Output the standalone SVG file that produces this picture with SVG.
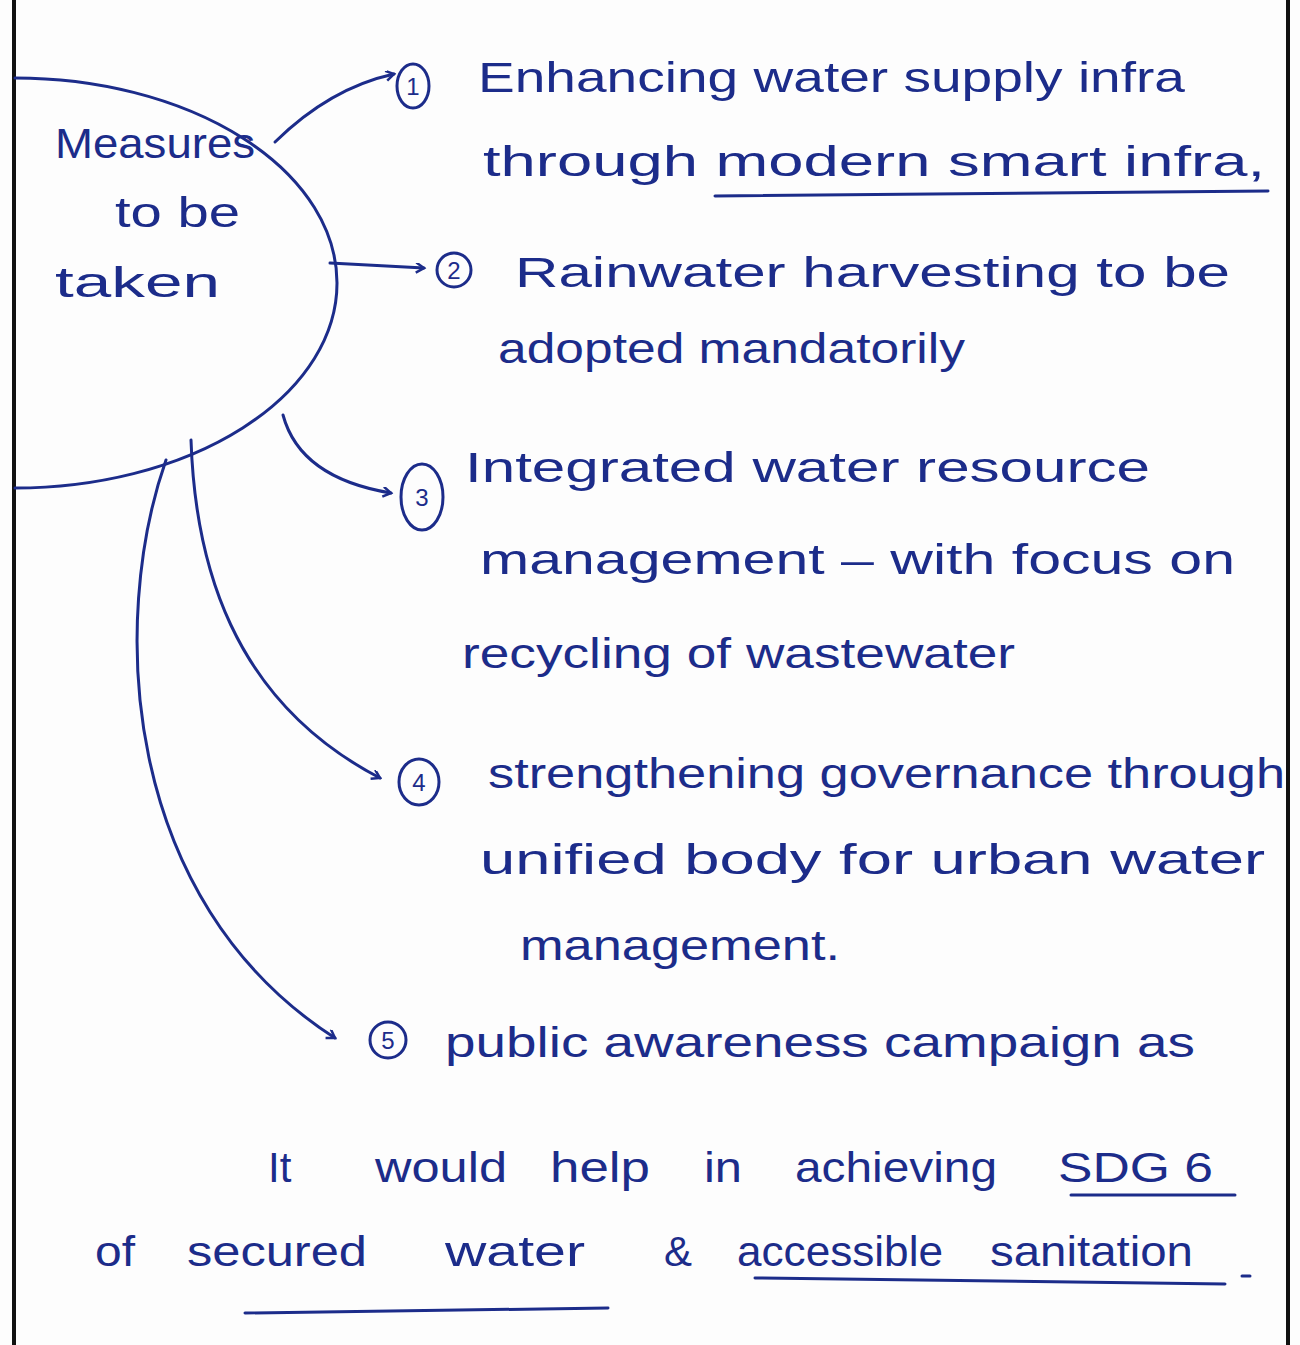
<svg xmlns="http://www.w3.org/2000/svg" width="1300" height="1345" viewBox="0 0 1300 1345">
<defs>
<style>
.ink{fill:none;stroke:#1c2c8a;stroke-width:3;stroke-linecap:round}
.t{font-family:"Liberation Sans","DejaVu Sans",sans-serif;font-size:42px;fill:#1c2c8a}
.n{font-family:"Liberation Sans","DejaVu Sans",sans-serif;font-size:24px;fill:#1c2c8a;text-anchor:middle}
.border{stroke:#111;stroke-width:4}
</style>
<marker id="ah" markerWidth="12" markerHeight="12" refX="9" refY="5" orient="auto" markerUnits="userSpaceOnUse">
<path d="M1,0 L9,5 L1,10" fill="none" stroke="#1c2c8a" stroke-width="2.5"/>
</marker>
</defs>
<rect width="1300" height="1345" fill="#fdfdfd"/>
<line class="border" x1="14" y1="0" x2="14" y2="1345"/>
<line class="border" x1="1288" y1="0" x2="1288" y2="1345"/>

<g id="center">
<path class="ink" d="M15,78 A322,205 0 0 1 15,488"/>
<text class="t" x="55" y="158" textLength="200" lengthAdjust="spacingAndGlyphs">Measures</text>
<text class="t" x="115" y="227" textLength="125" lengthAdjust="spacingAndGlyphs">to be</text>
<text class="t" x="55" y="297" textLength="165" lengthAdjust="spacingAndGlyphs">taken</text>
</g>

<g id="connectors">
<path class="ink" d="M275,142 Q330,88 394,74" marker-end="url(#ah)"/>
<path class="ink" d="M330,263 L424,268" marker-end="url(#ah)"/>
<path class="ink" d="M283,415 Q300,478 391,493" marker-end="url(#ah)"/>
<path class="ink" d="M191,440 C195,560 230,700 380,778" marker-end="url(#ah)"/>
<path class="ink" d="M166,460 C110,620 120,900 335,1038" marker-end="url(#ah)"/>
</g>

<g id="m1">
<ellipse class="ink" cx="413" cy="86" rx="16" ry="22"/>
<text class="n" x="413" y="95">1</text>
<text class="t" x="478" y="92" textLength="707" lengthAdjust="spacingAndGlyphs">Enhancing water supply infra</text>
<text class="t" x="483" y="176" textLength="782" lengthAdjust="spacingAndGlyphs">through modern smart infra,</text>
<path class="ink" d="M715,196 L1268,191"/>
</g>

<g id="m2">
<circle class="ink" cx="454" cy="270" r="17"/>
<text class="n" x="454" y="279">2</text>
<text class="t" x="515" y="287" textLength="715" lengthAdjust="spacingAndGlyphs">Rainwater harvesting to be</text>
<text class="t" x="498" y="363" textLength="467" lengthAdjust="spacingAndGlyphs">adopted mandatorily</text>
</g>

<g id="m3">
<ellipse class="ink" cx="422" cy="497" rx="21" ry="33"/>
<text class="n" x="422" y="506">3</text>
<text class="t" x="465" y="482" textLength="685" lengthAdjust="spacingAndGlyphs">Integrated water resource</text>
<text class="t" x="480" y="574" textLength="755" lengthAdjust="spacingAndGlyphs">management – with focus on</text>
<text class="t" x="462" y="668" textLength="553" lengthAdjust="spacingAndGlyphs">recycling of wastewater</text>
</g>

<g id="m4">
<ellipse class="ink" cx="419" cy="782" rx="20" ry="23"/>
<text class="n" x="419" y="791">4</text>
<text class="t" x="488" y="788" textLength="797" lengthAdjust="spacingAndGlyphs">strengthening governance through</text>
<text class="t" x="480" y="874" textLength="785" lengthAdjust="spacingAndGlyphs">unified body for urban water</text>
<text class="t" x="520" y="960" textLength="320" lengthAdjust="spacingAndGlyphs">management.</text>
</g>

<g id="m5">
<circle class="ink" cx="388" cy="1040" r="18"/>
<text class="n" x="388" y="1049">5</text>
<text class="t" x="445" y="1057" textLength="750" lengthAdjust="spacingAndGlyphs">public awareness campaign as</text>
<text class="t" x="268" y="1182">It</text>
<text class="t" x="375" y="1182" textLength="132" lengthAdjust="spacingAndGlyphs">would</text>
<text class="t" x="550" y="1182" textLength="100" lengthAdjust="spacingAndGlyphs">help</text>
<text class="t" x="704" y="1182" textLength="38" lengthAdjust="spacingAndGlyphs">in</text>
<text class="t" x="795" y="1182" textLength="202" lengthAdjust="spacingAndGlyphs">achieving</text>
<text class="t" x="1058" y="1182" textLength="155" lengthAdjust="spacingAndGlyphs">SDG 6</text>
<path class="ink" d="M1071,1195 L1235,1195"/>
<text class="t" x="95" y="1266" textLength="40" lengthAdjust="spacingAndGlyphs">of</text>
<text class="t" x="187" y="1266" textLength="180" lengthAdjust="spacingAndGlyphs">secured</text>
<text class="t" x="445" y="1266" textLength="140" lengthAdjust="spacingAndGlyphs">water</text>
<text class="t" x="664" y="1266">&amp;</text>
<text class="t" x="737" y="1266" textLength="206" lengthAdjust="spacingAndGlyphs">accessible</text>
<text class="t" x="990" y="1266" textLength="203" lengthAdjust="spacingAndGlyphs">sanitation</text>
<path class="ink" d="M245,1313 L608,1308"/>
<path class="ink" d="M755,1278 L1225,1284"/>
<path class="ink" d="M1242,1276 L1250,1276"/>
</g>
</svg>
